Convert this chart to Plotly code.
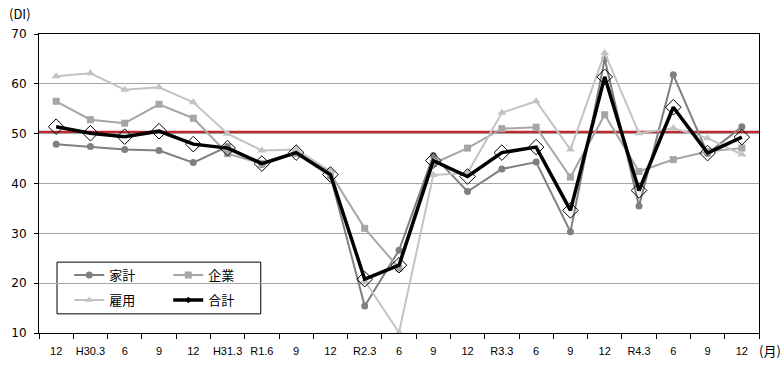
import plotly.graph_objects as go

labels = ["12", "H30.3", "6", "9", "12", "H31.3", "R1.6", "9", "12", "R2.3", "6",
          "9", "12", "R3.3", "6", "9", "12", "R4.3", "6", "9", "12"]
kakei = [47.9, 47.4, 46.8, 46.6, 44.2, 47.4, 43.8, 46.0, 41.5, 15.4, 26.6,
         45.6, 38.4, 42.9, 44.3, 30.3, 65.0, 35.5, 61.8, 46.0, 51.4]
kigyo = [56.5, 52.8, 52.1, 55.9, 53.1, 46.0, 44.0, 46.0, 42.0, 31.0, 23.0,
         44.0, 47.1, 51.0, 51.3, 41.3, 53.8, 42.4, 44.8, 46.4, 47.1]
koyo = [61.5, 62.1, 58.8, 59.3, 56.3, 50.0, 46.6, 46.8, 42.5, 20.5, 10.1,
        41.7, 42.1, 54.2, 56.5, 46.8, 66.2, 50.1, 51.1, 49.1, 45.8]
gokei = [51.4, 50.1, 49.4, 50.5, 47.9, 47.1, 44.0, 46.2, 41.8, 20.8, 23.6,
         44.6, 41.4, 46.2, 47.3, 34.6, 61.4, 38.6, 55.3, 46.1, 49.3]
ref_level = 50.3

x = list(range(len(labels)))
jp = "Noto Sans CJK JP"

series = [
    ("家計", kakei, "#7F7F7F", 2, "circle", 7, "legend"),
    ("企業", kigyo, "#A6A6A6", 2, "square", 7, "legend"),
    ("雇用", koyo, "#C3C3C3", 2, "triangle-up", 8, "legend2"),
]

fig = go.Figure()
for name, vals, col, lw, sym, ms, lg in series:
    fig.add_trace(go.Scatter(x=x, y=vals, name=name, mode="lines+markers",
                             line=dict(color=col, width=lw),
                             marker=dict(symbol=sym, size=ms, color=col),
                             showlegend=False))
fig.add_trace(go.Scatter(x=x, y=gokei, name="合計", mode="lines+markers",
                         line=dict(color="#000000", width=3.5),
                         marker=dict(symbol="diamond-open", size=12, color="#000000",
                                     line=dict(width=1, color="#000000")),
                         showlegend=False))

# legend entries (small markers as in the reference legend)
for name, vals, col, lw, sym, ms, lg in series:
    fig.add_trace(go.Scatter(x=[None], y=[None], name=name, mode="lines+markers",
                             line=dict(color=col, width=lw),
                             marker=dict(symbol=sym, size=7, color=col),
                             legend=lg, showlegend=True))
fig.add_trace(go.Scatter(x=[None], y=[None], name="合計", mode="lines+markers",
                         line=dict(color="#000000", width=3.5),
                         marker=dict(symbol="diamond", size=5, color="#000000"),
                         legend="legend2", showlegend=True))

fig.add_shape(type="line", xref="paper", x0=0, x1=1, yref="y", y0=ref_level, y1=ref_level,
              line=dict(color="#C0282E", width=3), layer="between")
fig.add_shape(type="rect", xref="paper", yref="paper", x0=0.025, x1=0.308, y0=0.064, y1=0.237,
              fillcolor="white", line=dict(color="black", width=1), layer="between")

fig.add_annotation(text="(DI)", xref="paper", yref="paper", x=-0.026, y=1.07,
                   xanchor="center", yanchor="middle", showarrow=False,
                   font=dict(family=jp, size=13, color="#000000"))
fig.add_annotation(text="(月)", xref="paper", yref="paper", x=0.997, y=-0.057,
                   xanchor="left", yanchor="middle", showarrow=False,
                   font=dict(family=jp, size=13, color="#000000"))

legend_common = dict(orientation="h", xanchor="left", yanchor="middle",
                     entrywidth=54, entrywidthmode="pixels",
                     bgcolor="rgba(0,0,0,0)", borderwidth=0,
                     font=dict(family=jp, size=13, color="#000000"),
                     itemwidth=30, tracegroupgap=0)

fig.update_layout(
    width=782, height=368,
    margin=dict(l=39, r=23, t=34, b=35),
    paper_bgcolor="white", plot_bgcolor="white",
    showlegend=True,
    legend=dict(x=0.042, y=0.194, **legend_common),
    legend2=dict(x=0.042, y=0.110, **legend_common),
    xaxis=dict(range=[-0.5, 20.5], tickmode="array", tickvals=x, ticktext=labels,
               ticks="outside", ticklen=8, tickcolor="rgba(0,0,0,0)",
               showgrid=False, zeroline=False,
               showline=True, linecolor="black", linewidth=1, mirror=True,
               tickfont=dict(family="Liberation Sans", size=11, color="#000000"),
               minor=dict(tickmode="array", tickvals=[i - 0.5 for i in range(len(labels) + 1)],
                          ticks="outside", ticklen=5, tickcolor="black", showgrid=False)),
    yaxis=dict(range=[10, 70], dtick=10, tick0=10,
               ticks="outside", ticklen=4, tickcolor="black", ticklabelstandoff=5,
               showgrid=True, gridcolor="#A5A5A5", gridwidth=1, zeroline=False,
               showline=True, linecolor="black", linewidth=1, mirror=True,
               tickfont=dict(family="DejaVu Sans", size=12, color="#000000")),
)

fig.write_html("out.html", config={"displayModeBar": False},
               post_script="document.body.style.margin='0px';document.body.style.padding='0px';")
